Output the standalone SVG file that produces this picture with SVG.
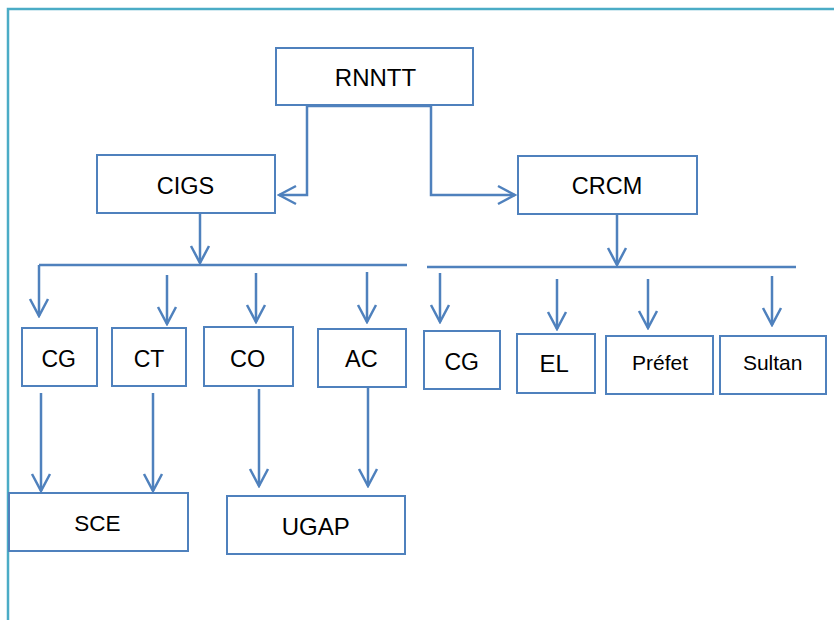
<svg xmlns="http://www.w3.org/2000/svg" width="834" height="620" viewBox="0 0 834 620">
<style>
.box{fill:#fff;stroke:#4f81bd;stroke-width:2}
.lbl{font-family:"Liberation Sans",Arial,sans-serif;fill:#000;text-anchor:middle}
.con{fill:none;stroke:#4f81bd;stroke-width:2.5}
.arr{marker-end:url(#ah)}
.frame{fill:none;stroke:#4bacc6;stroke-width:2.5}
</style>
<defs>
<marker id="ah" markerUnits="userSpaceOnUse" viewBox="-20 -12 22 24" refX="0" refY="0" markerWidth="22" markerHeight="24" orient="auto">
<path d="M-17,-9 L0,0 L-17,9" fill="none" stroke="#4f81bd" stroke-width="2.5"/>
</marker>
</defs>
<rect width="834" height="620" fill="#fff"/>
<path class="frame" d="M8,620 V9 H834"/>
<g id="connectors">
<path class="con arr" d="M431,106 H307 V195 H279"/>
<path class="con arr" d="M431,106 V195 H515"/>
<path class="con arr" d="M200,213 V263"/>
<path class="con" d="M39,265 H407"/>
<path class="con arr" d="M39,265 V316"/>
<path class="con arr" d="M167,275 V324"/>
<path class="con arr" d="M256,273 V322"/>
<path class="con arr" d="M367,272 V322"/>
<path class="con arr" d="M617,214 V265"/>
<path class="con" d="M427,267 H796"/>
<path class="con arr" d="M440,273 V322"/>
<path class="con arr" d="M557,279 V329"/>
<path class="con arr" d="M648,279 V328"/>
<path class="con arr" d="M772,276 V325"/>
<path class="con arr" d="M41,393 V491"/>
<path class="con arr" d="M153,393 V491"/>
<path class="con arr" d="M259,389 V486"/>
<path class="con arr" d="M368,388 V486"/>
</g>
<g id="n-rnntt"><rect class="box" x="276" y="48" width="197" height="57"/><text class="lbl" x="375.5" y="86" font-size="24">RNNTT</text></g>
<g id="n-cigs"><rect class="box" x="97" y="155" width="178" height="58"/><text class="lbl" x="185.5" y="194" font-size="23.5">CIGS</text></g>
<g id="n-crcm"><rect class="box" x="518" y="156" width="179" height="58"/><text class="lbl" x="607" y="194" font-size="23.5">CRCM</text></g>
<g id="n-cg1"><rect class="box" x="22" y="328" width="75" height="58"/><text class="lbl" x="58.7" y="367" font-size="23">CG</text></g>
<g id="n-ct"><rect class="box" x="112" y="328" width="74" height="58"/><text class="lbl" x="149" y="367" font-size="23">CT</text></g>
<g id="n-co"><rect class="box" x="204" y="327" width="89" height="59"/><text class="lbl" x="247.7" y="367" font-size="23.5">CO</text></g>
<g id="n-ac"><rect class="box" x="318" y="329" width="88" height="58"/><text class="lbl" x="361.3" y="367" font-size="23.5">AC</text></g>
<g id="n-cg2"><rect class="box" x="424" y="331" width="76" height="58"/><text class="lbl" x="461.7" y="370" font-size="23">CG</text></g>
<g id="n-el"><rect class="box" x="517" y="334" width="78" height="59"/><text class="lbl" x="554.3" y="372" font-size="24">EL</text></g>
<g id="n-prefet"><rect class="box" x="606" y="336" width="107" height="58"/><text class="lbl" x="660" y="370" font-size="21">Préfet</text></g>
<g id="n-sultan"><rect class="box" x="720" y="336" width="106" height="58"/><text class="lbl" x="772.7" y="370" font-size="21">Sultan</text></g>
<g id="n-sce"><rect class="box" x="9" y="493" width="179" height="58"/><text class="lbl" x="97.5" y="531" font-size="22.5">SCE</text></g>
<g id="n-ugap"><rect class="box" x="227" y="496" width="178" height="58"/><text class="lbl" x="315.7" y="535" font-size="24">UGAP</text></g>
</svg>
